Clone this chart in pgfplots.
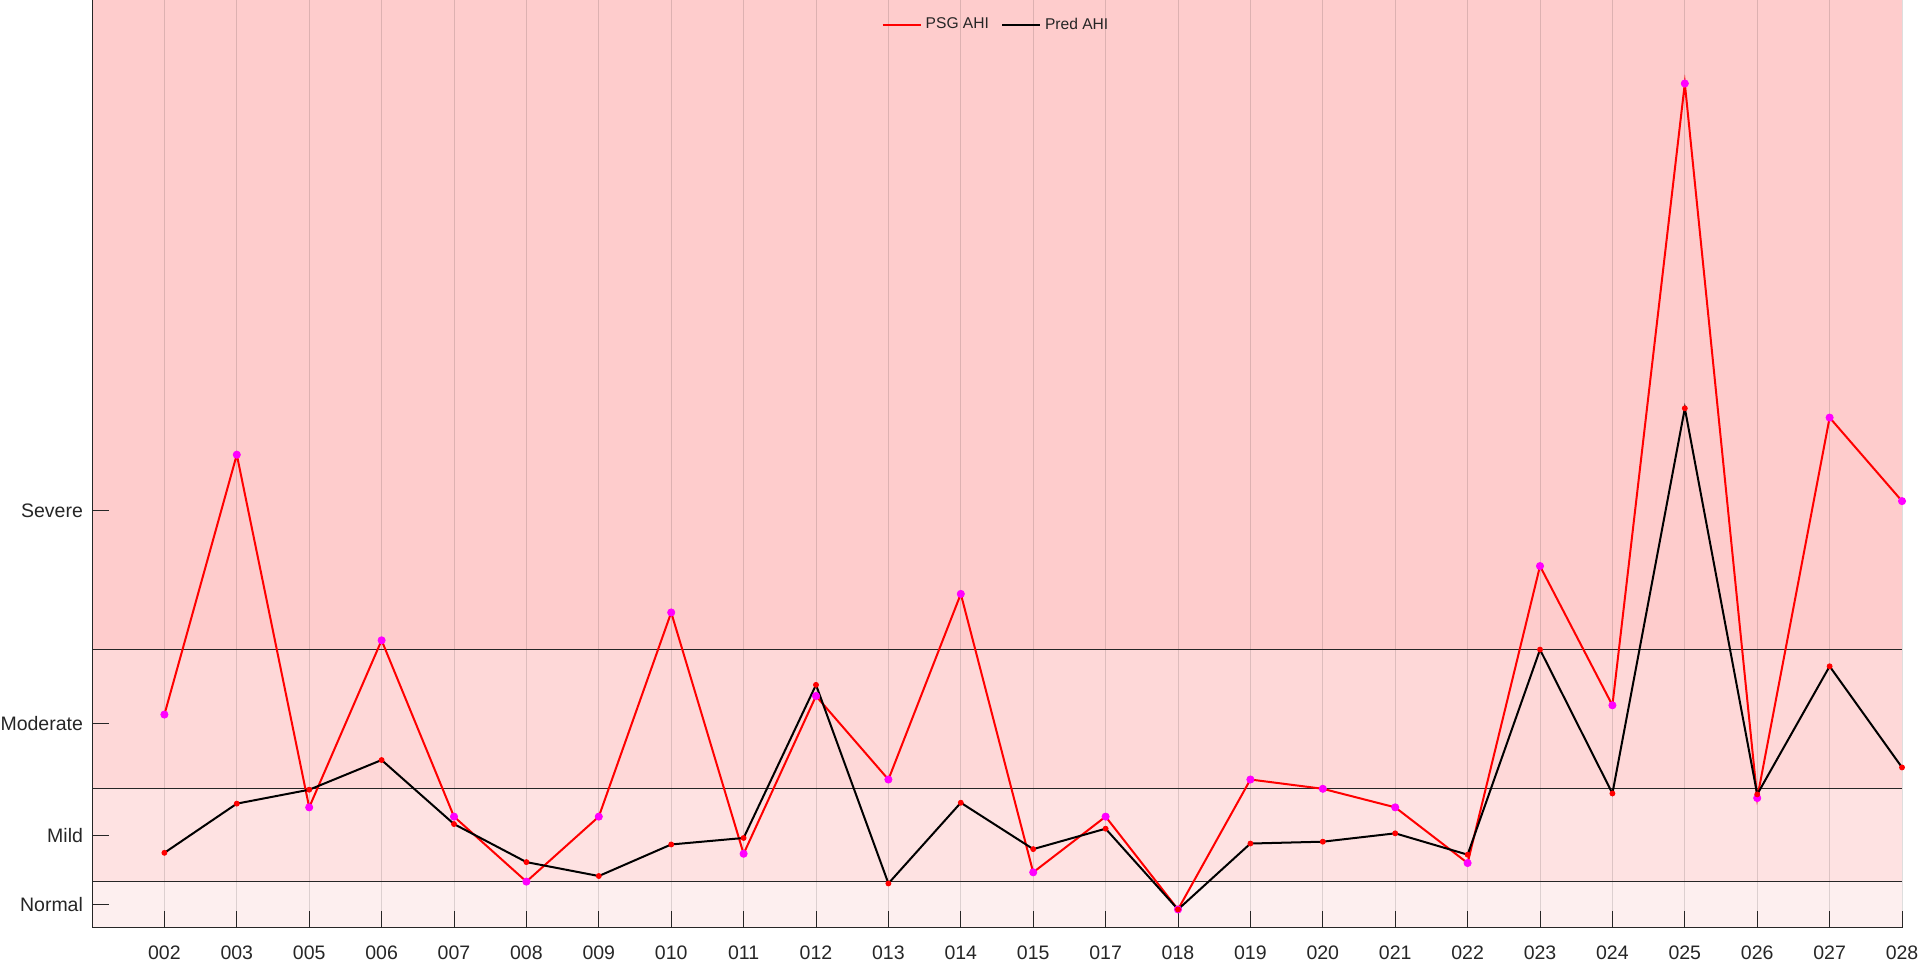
\documentclass[border=0pt]{standalone}
\usepackage{fontspec}
\setmainfont{Liberation Sans}
\usepackage{pgfplots}
\usepackage{pgfplotstable}
\pgfplotsset{compat=1.18}
\definecolor{sevcol}{RGB}{254,204,204}
\definecolor{modcol}{RGB}{254,216,216}
\definecolor{mildcol}{RGB}{254,226,226}
\definecolor{normcol}{RGB}{253,239,239}
\definecolor{axcol}{RGB}{38,38,38}
\definecolor{mag}{RGB}{255,0,255}
\definecolor{pred}{RGB}{255,0,0}
\pgfplotstableread{
x psg pred
1 23 8.1
2 51 13.4
3 13 14.9
4 31 18.1
5 12 11.2
6 5 7.1
7 12 5.6
8 34 9.0
9 8 9.7
10 25 26.2
11 16 4.8
12 36 13.5
13 6 8.5
14 12 10.7
15 2 2.0
16 16 9.1
17 15 9.3
18 13 10.2
19 7 7.9
20 39 30.0
21 24 14.5
22 91 56.0
23 14 14.4
24 55 28.2
25 46 17.3
}\datatable
\begin{document}
\begin{tikzpicture}
\begin{axis}[
  set layers,
  scale only axis,
  width=905pt, height=464pt,
  xmin=0, xmax=25, ymin=0, ymax=100,
  axis lines*=left,
  axis line style={axcol, line width=0.5pt},
  xtick={1,...,25},
  xticklabels={002,003,005,006,007,008,009,010,011,012,013,014,015,017,018,019,020,021,022,023,024,025,026,027,028},
  ytick={2.5,10,22,45},
  yticklabels={Normal,Mild,Moderate,Severe},
  tick align=inside,
  major tick length=8.7pt,
  tick style={axcol, line width=0.5pt},
  ticklabel style={font=\fontsize{9.75}{11}\selectfont, text=axcol},
  xticklabel style={yshift=-5.2pt},
  yticklabel style={xshift=-1pt},
  xmajorgrids,
  grid style={black, opacity=0.13, line width=0.5pt},
  legend style={at={(0.5,0.973)}, anchor=center, draw=none, fill=none,
    font=\fontsize{7.8}{9}\selectfont, text=axcol, legend columns=2,
    /tikz/every even column/.append style={column sep=4pt}},
  legend image code/.code={\draw[#1] (0pt,0pt) -- (19pt,0pt);},
]
\begin{pgfonlayer}{axis background}
\fill[sevcol] (axis cs:0,30) rectangle (axis cs:25,100);
\fill[modcol] (axis cs:0,15) rectangle (axis cs:25,30);
\fill[mildcol] (axis cs:0,5) rectangle (axis cs:25,15);
\fill[normcol] (axis cs:0,0) rectangle (axis cs:25,5);
\end{pgfonlayer}
\coordinate (SW) at (rel axis cs:0,0);
\coordinate (NE) at (rel axis cs:1,1);
\addplot[forget plot, axcol, line width=0.6pt] coordinates {(0,5) (25,5)};
\addplot[forget plot, axcol, line width=0.6pt] coordinates {(0,15) (25,15)};
\addplot[forget plot, axcol, line width=0.6pt] coordinates {(0,30) (25,30)};
\addplot[pred, line width=1pt, mark=none] table[x=x, y=psg] {\datatable};
\addlegendentry{PSG AHI}
\addplot[black, line width=1pt, mark=none] table[x=x, y=pred] {\datatable};
\addlegendentry{Pred AHI}
\addplot[forget plot, only marks, mark=*, mark size=1.8pt, mark options={draw=mag, fill=mag}] table[x=x, y=psg] {\datatable};
\addplot[forget plot, only marks, mark=*, mark size=1.25pt, mark options={draw=pred, fill=pred}] table[x=x, y=pred] {\datatable};
\end{axis}
\pgfresetboundingbox
\path[use as bounding box] ([xshift=-46pt,yshift=-17pt]SW) rectangle ([xshift=9pt]NE);
\end{tikzpicture}
\end{document}
